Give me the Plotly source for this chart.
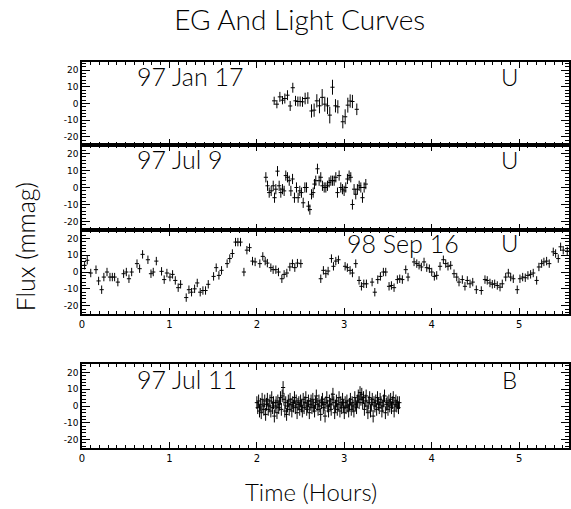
import plotly.graph_objects as go

# ---------------- data ----------------
# Panel 1: 97 Jan 17 (U)
t1 = [2.198, 2.229, 2.263, 2.293, 2.320, 2.350, 2.381, 2.411, 2.442, 2.469, 2.495,
      2.522, 2.552, 2.583, 2.625, 2.655, 2.686, 2.716, 2.747, 2.777, 2.808, 2.834,
      2.865, 2.899, 2.926, 2.983, 3.010, 3.040, 3.067, 3.093, 3.143]
f1 = [1.6, -0.4, 4, 2, 3, 5, -1.5, 9.5, 1.6, 1.2, 1.2, 1, 3, 3.3, -4.5, -4, 1.6,
      -1.4, 3.7, -0.4, -1.4, -7, 9.8, -1.4, -2, -11, -8, -1, 1.5, 1.2, -3.5]
e1 = [2.5, 2.5, 3, 2.5, 3, 3, 3, 3, 3, 3, 3, 3, 3.5, 3.5, 4, 4, 4, 4.5, 5, 4.5,
      5, 5, 4.5, 4, 4, 4, 4.5, 4.5, 4, 4, 3.5]

# Panel 2: 97 Jul 9 (U)
t2 = [2.103, 2.122, 2.141, 2.164, 2.187, 2.202, 2.217, 2.236, 2.255, 2.274, 2.293,
      2.312, 2.331, 2.350, 2.370, 2.389, 2.408, 2.430, 2.453, 2.472, 2.491, 2.510,
      2.530, 2.549, 2.568, 2.590, 2.606, 2.625, 2.644, 2.659, 2.674, 2.693, 2.712,
      2.731, 2.750, 2.770, 2.789, 2.808, 2.827, 2.846, 2.865, 2.884, 2.903, 2.922,
      2.941, 2.960, 2.979, 2.998, 3.017, 3.036, 3.055, 3.074, 3.093, 3.112, 3.131,
      3.150, 3.170, 3.189, 3.208, 3.227, 3.246]
f2 = [6, 1, -3, -2, 1, -6, -1, 9.6, 1, -3, -1, -2, 7, 6, 4, -2, 5, -6, 0, -6, -2,
      -3, -9, 0, 0, -11, -13, -4, -3, 2, 4, 11, 4, 6, 1, 0, 0, 1, 3, 4, 4, 4, 6,
      -3, 7, 0, -1, -2, 0, 5, 7, 6, -10, -1, -4, -1, 1, 0, -6, 0, 2]
e2 = [3.0] * len(t2)

# Panel 3: 98 Sep 16 (U)
t3 = [0.030, 0.060, 0.100, 0.160, 0.190, 0.225, 0.250, 0.286, 0.320, 0.347, 0.373,
      0.410, 0.476, 0.507, 0.537, 0.568, 0.629, 0.659, 0.693, 0.754, 0.789, 0.815,
      0.850, 0.910, 0.940, 0.971, 1.006, 1.036, 1.067, 1.100, 1.128, 1.192, 1.223,
      1.253, 1.288, 1.318, 1.352, 1.383, 1.413, 1.444, 1.505, 1.535, 1.566, 1.596,
      1.660, 1.690, 1.720, 1.756, 1.783, 1.813, 1.852, 1.886, 1.916, 1.950, 1.980,
      2.034, 2.068, 2.095, 2.120, 2.160, 2.186, 2.217, 2.247, 2.286, 2.312, 2.343,
      2.377, 2.407, 2.434, 2.464, 2.503, 2.731, 2.761, 2.789, 2.815, 2.853, 2.876,
      2.903, 2.933, 3.009, 3.035, 3.066, 3.093, 3.131, 3.169, 3.196, 3.223, 3.253,
      3.318, 3.349, 3.383, 3.413, 3.447, 3.474, 3.512, 3.539, 3.569, 3.607, 3.634,
      3.664, 3.703, 3.729, 3.798, 3.829, 3.855, 3.881, 3.912, 3.943, 3.973, 4.000,
      4.030, 4.057, 4.095, 4.133, 4.160, 4.186, 4.217, 4.255, 4.286, 4.312, 4.350,
      4.380, 4.407, 4.438, 4.469, 4.510, 4.567, 4.609, 4.635, 4.666, 4.693, 4.720,
      4.750, 4.781, 4.807, 4.846, 4.876, 4.903, 4.933, 4.978, 5.009, 5.040, 5.070,
      5.100, 5.131, 5.161, 5.200, 5.226, 5.257, 5.283, 5.314, 5.344, 5.390, 5.417,
      5.447, 5.474, 5.504, 5.550]
f3 = [4, 7, -0.6, 1.4, -5.3, -10.5, -3, 0, -3, -3, -3, -6, -1, 0, -4, 0, 5, 2,
      10.5, 7.3, -1, 0, 6.5, 0.4, -4.5, -0.6, -3, -1.4, -5, -9.3, -7.3, -15.2,
      -10.5, -12, -10, -6.5, -12, -11, -11, -7.3, -2.6, 2.6, -2, 1, 5, 8, 11,
      17.8, 17.8, 17.8, 0, 13, 14.5, 6.5, 6, 5, 9.3, 6.5, 5.3, 2.6, 1.4, 1.4, 0,
      -4, -1.4, -0.6, 3, 5, 2.6, 5.3, 5, -4, 1, -1, 0.6, 8, 3.4, 6.5, 7.3, 3.4,
      2.6, 1, -0.6, 5, -5, -8.5, -7, -7, -6, -12, -4.5, -2.6, 0, 0, -8.5, -8,
      -9.3, -4.5, -4, -4.5, 1.4, -3, 6, 5, 4, 3, 6, 2.6, 2, 0, -2.6, -2, 3.4, 7.3,
      5, 3.4, 4, -1, -3, -6, -4.5, -8.5, -5, -7, -6, -10.5, -11, -4.5, -5, -6.5,
      -7.3, -7, -8, -9, -7, -3, -0.6, -3, -4, -10.5, -4, -3, -3.4, -2, -1.4, -0.6,
      -5, 3, 5, 6, 6.5, 5, 12, 11, 8, 15, 13, 12.5]
e3 = [2.5] * len(t3)

# Panel 4: 97 Jul 11 (B)
t4 = [2.00, 2.01, 2.02, 2.03, 2.04, 2.05, 2.06, 2.07, 2.08, 2.09,
      2.10, 2.11, 2.12, 2.13, 2.14, 2.15, 2.16, 2.17, 2.18, 2.19,
      2.20, 2.21, 2.22, 2.23, 2.24, 2.25, 2.26, 2.27, 2.28, 2.29,
      2.30, 2.31, 2.32, 2.33, 2.34, 2.35, 2.36, 2.37, 2.38, 2.39,
      2.40, 2.41, 2.42, 2.43, 2.44, 2.45, 2.46, 2.47, 2.48, 2.49,
      2.50, 2.51, 2.52, 2.53, 2.54, 2.55, 2.56, 2.57, 2.58, 2.59,
      2.60, 2.61, 2.62, 2.63, 2.64, 2.65, 2.66, 2.67, 2.68, 2.69,
      2.70, 2.71, 2.72, 2.73, 2.74, 2.75, 2.76, 2.77, 2.78, 2.79,
      2.80, 2.81, 2.82, 2.83, 2.84, 2.85, 2.86, 2.87, 2.88, 2.89,
      2.90, 2.91, 2.92, 2.93, 2.94, 2.95, 2.96, 2.97, 2.98, 2.99,
      3.00, 3.01, 3.02, 3.03, 3.04, 3.05, 3.06, 3.07, 3.08, 3.09,
      3.10, 3.11, 3.12, 3.13, 3.14, 3.15, 3.16, 3.17, 3.18, 3.19,
      3.20, 3.21, 3.22, 3.23, 3.24, 3.25, 3.26, 3.27, 3.28, 3.29,
      3.30, 3.31, 3.32, 3.33, 3.34, 3.35, 3.36, 3.37, 3.38, 3.39,
      3.40, 3.41, 3.42, 3.43, 3.44, 3.45, 3.46, 3.47, 3.48, 3.49,
      3.50, 3.51, 3.52, 3.53, 3.54, 3.55, 3.56, 3.57, 3.58, 3.59,
      3.60, 3.61, 3.62, 3.63]
f4 = [2, -1, 3, -3, 1, -4, 4, 0, -2, 3,
      -5, 1, 4, -2, 0, 3, -3, 5, -1, 2,
      -6, 0, 2, -4, 3, -1, 1, 5, -2, 6,
      11, 4, -3, 2, -5, 0, 3, -2, 4, 1,
      -3, 2, 0, 5, -1, 3, -4, 1, 2, -2,
      3, 0, -3, 4, -1, 2, 5, -2, 0, 3,
      -4, 1, 3, -1, 4, 0, -3, 2, 6, 1,
      -2, 3, 0, -5, 2, 4, -1, 1, -6, 2,
      5, 0, -3, 3, 1, -2, 4, 7, 2, -4,
      0, 3, -2, 1, 5, -3, 2, -1, 4, 0,
      -4, 2, -1, 3, 0, -3, 1, 4, -2, 2,
      0, -3, 5, 1, -1, 3, 6, 2, 8, 4,
      7, 2, 5, -2, 3, 6, 0, -4, 2, 5,
      -3, 1, 4, -6, 2, 0, 3, -2, 5, 1,
      -1, 4, 2, -3, 0, 3, 6, -4, 1, 2,
      -2, 3, 0, 4, -1, 2, 5, -3, 1, 3,
      0, 2, -1, 2]
e4 = [3.8] * len(t4)

dates = ["97 Jan 17", "97 Jul 9", "98 Sep 16", "97 Jul 11"]
filters = ["U", "U", "U", "B"]
date_x = [0.61, 0.61, 3.01, 0.61]
date_y = [16.5, 16.5, 17.5, 16.0]

x_ticks = [0, 1, 2, 3, 4, 5]
y_ticks = [-20, -10, 0, 10, 20]

# ---------------- figure ----------------
FONT = "Lato"
TFONT = "DejaVu Sans"
series = [(t1, f1, e1), (t2, f2, e2), (t3, f3, e3), (t4, f4, e4)]
domains = [[0.785, 1.0], [0.5648, 0.785], [0.347, 0.5648], [0.0, 0.2176]]

fig = go.Figure()
for i, (t, f, e) in enumerate(series):
    n = "" if i == 0 else str(i + 1)
    fig.add_trace(go.Scatter(
        x=t, y=f, mode="markers", xaxis="x" + n, yaxis="y" + n,
        marker=dict(symbol="line-ew", size=3, color="black",
                    line=dict(width=1, color="black")),
        error_y=dict(type="data", array=e, visible=True, thickness=1,
                     width=0, color="black"),
        showlegend=False, hoverinfo="skip"))

layout = dict(
    width=571, height=509, autosize=False,
    margin=dict(l=82, r=2, t=62, b=61, autoexpand=False),
    paper_bgcolor="white", plot_bgcolor="white",
    font=dict(family=TFONT, color="black", size=9),
    title=dict(text="EG And Light Curves", x=0.525, xanchor="center",
               y=0.961, yanchor="middle", automargin=False,
               font=dict(family=FONT, size=28, color="black", weight=300)),
    showlegend=False,
)

for i in range(4):
    n = "" if i == 0 else str(i + 1)
    show_lbl = i in (2, 3)
    layout["xaxis" + n] = dict(
        range=[0, 5.57], anchor="y" + n, domain=[0, 1], automargin=False,
        tickvals=x_ticks, ticktext=[str(v) for v in x_ticks],
        showticklabels=show_lbl, ticks="inside", ticklen=6, tickwidth=1,
        tickcolor="black", showline=True, linecolor="black", linewidth=1.6,
        mirror="ticks", showgrid=False, zeroline=False,
        tickfont=dict(family=TFONT, size=10),
        minor=dict(dtick=0.1, tick0=0, ticks="inside", ticklen=3,
                   tickcolor="black", tickwidth=1, showgrid=False),
    )
    layout["yaxis" + n] = dict(
        range=[-25, 25], anchor="x" + n, domain=domains[i], automargin=False,
        tickvals=y_ticks, ticktext=[str(v) for v in y_ticks],
        ticks="inside", ticklen=8, tickwidth=1, tickcolor="black",
        showline=True, linecolor="black", linewidth=1.6, mirror="ticks",
        showgrid=False, zeroline=False,
        tickfont=dict(family=TFONT, size=9),
        minor=dict(dtick=2, tick0=0, ticks="inside", ticklen=4,
                   tickcolor="black", tickwidth=1, showgrid=False),
    )

annotations = []
for i in range(4):
    n = "" if i == 0 else str(i + 1)
    annotations.append(dict(
        text=dates[i], x=date_x[i], y=date_y[i], xref="x" + n, yref="y" + n,
        xanchor="left", yanchor="middle", showarrow=False,
        font=dict(family=FONT, size=25, color="black", weight=300)))
    annotations.append(dict(
        text=filters[i], x=4.885, y=date_y[i], xref="x" + n, yref="y" + n,
        xanchor="center", yanchor="middle", showarrow=False,
        font=dict(family=FONT, size=24, color="black", weight=300)))

annotations.append(dict(
    text="Time (Hours)", x=0.47, y=-0.113, xref="paper", yref="paper",
    xanchor="center", yanchor="middle", showarrow=False,
    font=dict(family=FONT, size=24, color="black", weight=300)))
annotations.append(dict(
    text="Flux (mmag)", x=-0.117, y=0.52, xref="paper", yref="paper",
    xanchor="center", yanchor="middle", textangle=-90, showarrow=False,
    font=dict(family=FONT, size=25, color="black", weight=300)))
layout["annotations"] = annotations

fig.update_layout(**layout)
post = ("document.body.style.margin='0';document.body.style.overflow='hidden';"
        "var gd=document.getElementById('{plot_id}');"
        "Plotly.relayout(gd,{width:571,height:509});")
fig.write_html("out.html", config={"responsive": False, "displayModeBar": False},
               post_script=post)
